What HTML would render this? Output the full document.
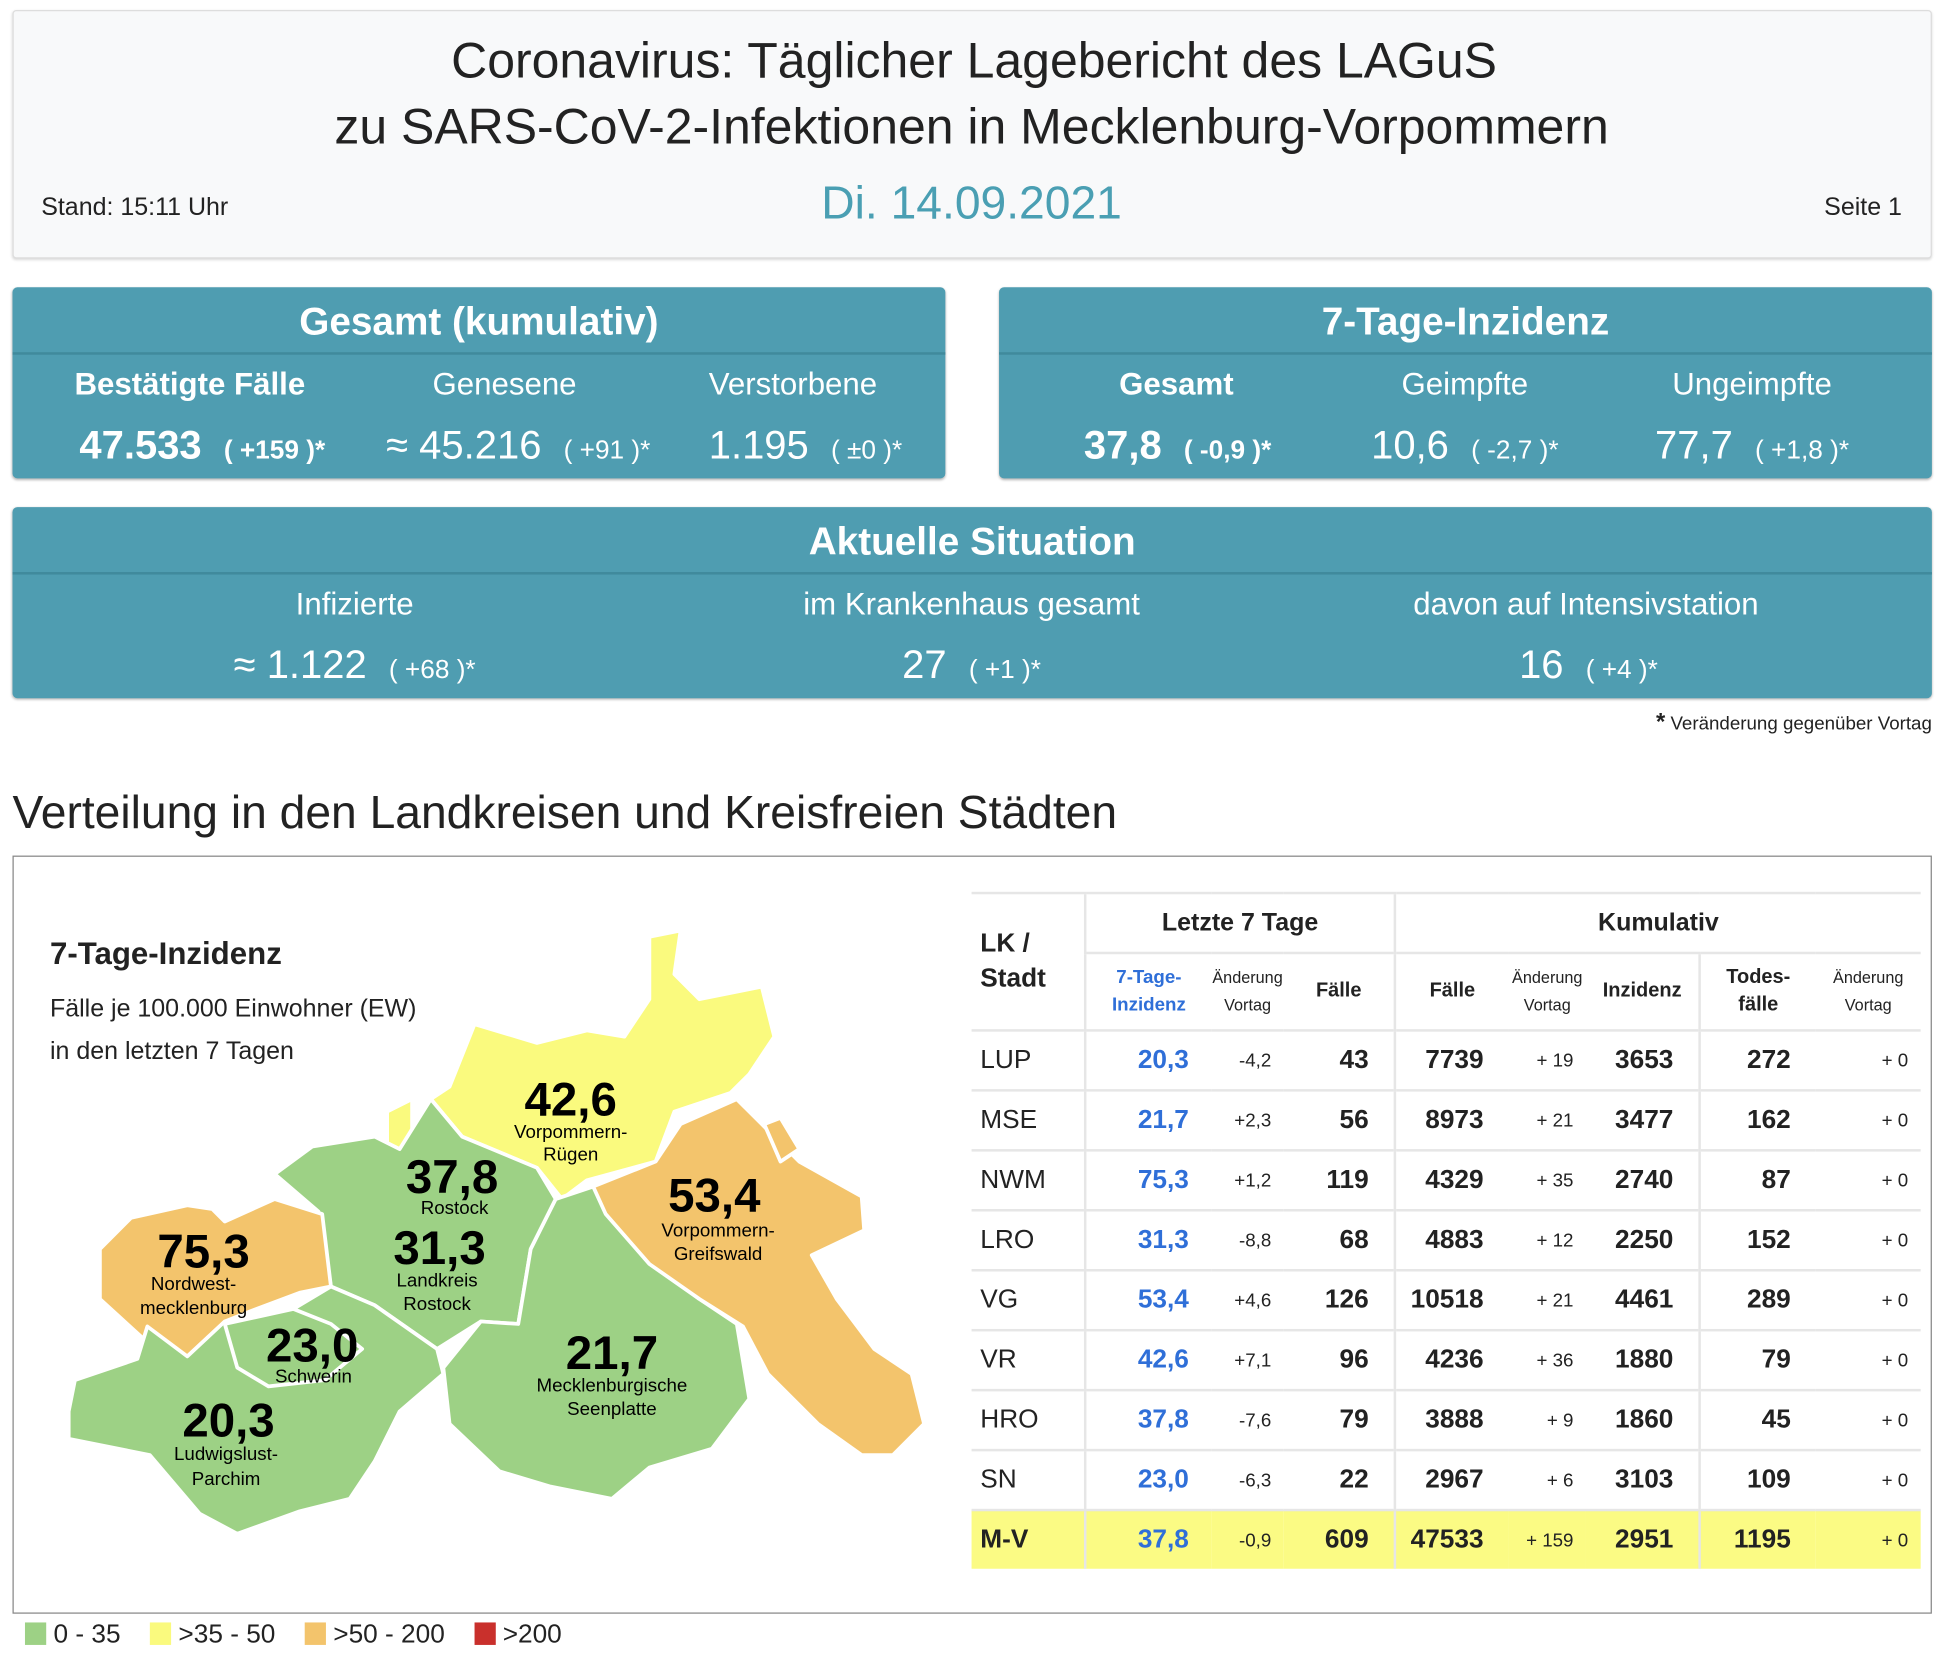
<!DOCTYPE html>
<html><head><meta charset="utf-8">
<style>
html,body{margin:0;padding:0;background:#fff;width:1958px;height:1670px;overflow:hidden}
#w{position:absolute;left:0;top:0;width:1560px;height:1330px;transform:scale(1.2488,1.249);transform-origin:0 0;font-family:"Liberation Sans",sans-serif;color:#222}
.a{position:absolute;white-space:nowrap}
.c{text-align:center}
.box{position:absolute;background:#4f9db1;border-radius:4px;box-shadow:0 1px 2px rgba(0,0,0,.3);color:#fff}
.box .h{position:absolute;left:0;right:0;top:0;height:52px;border-bottom:2px solid #408a9c;font-weight:bold;font-size:31px;text-align:center;line-height:56px}
.lab{font-size:25px;position:absolute;text-align:center;width:240px}
.val{font-size:32px;position:absolute;text-align:center;width:280px}
.val small{font-size:21px}
table{border-collapse:collapse;position:absolute;left:778px;top:714px;width:760px;font-size:21px}
td{border-top:2px solid #e6e6e6;height:46px;padding:0;text-align:right}
.lk{text-align:left;padding-left:7px;font-size:21px}
.b{color:#2f6fd8;font-weight:bold;padding-right:18px}
.s{font-size:15px;padding-right:10px}
.bd{font-weight:bold;padding-right:20px}
.vl{border-left:2px solid #e6e6e6}
</style></head><body><div id="w">
<div class="a" style="left:10px;top:8px;width:1535px;height:197px;background:#f8f9fa;border:1px solid #ddd;border-radius:3px;box-shadow:0 1px 2px rgba(0,0,0,.15)"></div>
<div class="a c" style="left:0;width:1560px;top:25px;font-size:40px;line-height:48px">Coronavirus: Täglicher Lagebericht des LAGuS</div>
<div class="a c" style="left:0;width:1556px;top:78px;font-size:40px;line-height:48px">zu SARS-CoV-2-Infektionen in Mecklenburg-Vorpommern</div>
<div class="a c" style="left:0;width:1556px;top:140px;font-size:37px;line-height:46px;color:#4a9fb3">Di. 14.09.2021</div>
<div class="a" style="left:33px;top:155px;font-size:20px">Stand: 15:11 Uhr</div>
<div class="a" style="right:37px;top:155px;font-size:20px">Seite 1</div>

<div class="box" style="left:10px;top:230px;width:747px;height:153px"><div class="h">Gesamt (kumulativ)</div>
<div class="lab" style="left:22px;top:64px;font-weight:bold">Bestätigte Fälle</div>
<div class="lab" style="left:274px;top:64px">Genesene</div>
<div class="lab" style="left:505px;top:64px">Verstorbene</div>
<div class="val" style="left:12px;top:108px;font-weight:bold">47.533 &nbsp;<small>( +159 )*</small></div>
<div class="val" style="left:265px;top:108px">≈ 45.216 &nbsp;<small>( +91 )*</small></div>
<div class="val" style="left:495px;top:108px">1.195 &nbsp;<small>( ±0 )*</small></div>
</div>
<div class="box" style="left:800px;top:230px;width:747px;height:153px"><div class="h">7-Tage-Inzidenz</div>
<div class="lab" style="left:22px;top:64px;font-weight:bold">Gesamt</div>
<div class="lab" style="left:253px;top:64px">Geimpfte</div>
<div class="lab" style="left:483px;top:64px">Ungeimpfte</div>
<div class="val" style="left:3px;top:108px;font-weight:bold">37,8 &nbsp;<small>( -0,9 )*</small></div>
<div class="val" style="left:233px;top:108px">10,6 &nbsp;<small>( -2,7 )*</small></div>
<div class="val" style="left:463px;top:108px">77,7 &nbsp;<small>( +1,8 )*</small></div>
</div>
<div class="box" style="left:10px;top:406px;width:1537px;height:153px"><div class="h">Aktuelle Situation</div>
<div class="lab" style="left:154px;top:64px">Infizierte</div>
<div class="lab" style="left:578px;top:64px;width:380px">im Krankenhaus gesamt</div>
<div class="lab" style="left:1060px;top:64px;width:400px">davon auf Intensivstation</div>
<div class="val" style="left:134px;top:108px">≈ 1.122 &nbsp;<small>( +68 )*</small></div>
<div class="val" style="left:628px;top:108px">27 &nbsp;<small>( +1 )*</small></div>
<div class="val" style="left:1122px;top:108px">16 &nbsp;<small>( +4 )*</small></div>
</div>
<div class="a" style="right:13px;top:568px;font-size:15px"><b style="font-size:19px">*</b> Veränderung gegenüber Vortag</div>
<div class="a" style="left:10px;top:630px;font-size:37px">Verteilung in den Landkreisen und Kreisfreien Städten</div>
<div class="a" style="left:10px;top:685px;width:1535px;height:605px;border:1px solid #888"></div>

<div class="a" style="left:40px;top:750px;font-size:25px;font-weight:bold">7-Tage-Inzidenz</div>
<div class="a" style="left:40px;top:797px;font-size:20px">Fälle je 100.000 Einwohner (EW)</div>
<div class="a" style="left:40px;top:831px;font-size:20px">in den letzten 7 Tagen</div>

<svg class="a" style="left:0;top:0" width="780" height="1330" viewBox="0 0 780 1330">
<g stroke="#fff" stroke-width="3" stroke-linejoin="round">
<polygon fill="#fafa7e" points="520,750 545,745 540,780 560,800 610,790 620,830 600,860 585,875 540,890 525,930 470,945 450,960 430,935 370,910 345,880 360,870 380,820 430,835 470,825 500,830 520,800"/>
<polygon fill="#fafa7e" points="310,890 330,880 330,930 310,935"/>
<polygon fill="#9dd185" points="220,940 250,918 300,910 320,920 345,880 370,910 430,935 445,960 425,1000 415,1060 385,1058 350,1080 300,1045 265,1030 255,970"/>
<polygon fill="#f3c46c" points="80,1000 105,975 150,965 170,968 180,978 220,960 258,972 265,1030 240,1035 200,1050 180,1058 150,1086 115,1072 80,1040"/>
<polygon fill="#9dd185" points="55,1130 60,1105 110,1088 118,1062 150,1086 180,1058 235,1048 265,1030 300,1045 350,1080 355,1100 320,1130 300,1170 280,1200 240,1210 190,1228 160,1212 120,1165 55,1152"/>
<polygon fill="#9dd185" points="180,1060 235,1048 265,1060 290,1080 260,1105 215,1110 190,1095"/>
<polygon fill="#9dd185" points="445,960 475,950 520,1010 560,1040 590,1060 600,1120 570,1160 520,1175 490,1200 440,1190 400,1178 360,1140 355,1095 385,1058 415,1060 425,1000"/>
<polygon fill="#f3c46c" points="475,950 525,930 545,900 590,880 610,900 640,930 690,958 692,985 650,1005 670,1040 700,1080 730,1100 740,1140 715,1165 690,1165 655,1140 615,1100 595,1062 560,1040 520,1012 485,972"/>
<polygon fill="#f3c46c" points="612,900 625,895 640,920 625,930"/>
</g>
<g font-family="Liberation Sans,sans-serif" text-anchor="middle" fill="#000">
<g font-weight="bold" font-size="38">
<text x="457" y="893">42,6</text><text x="362" y="955">37,8</text><text x="352" y="1012">31,3</text>
<text x="572" y="970">53,4</text><text x="163" y="1015">75,3</text><text x="250" y="1090">23,0</text>
<text x="490" y="1096">21,7</text><text x="183" y="1150">20,3</text></g>
<g font-size="15">
<text x="457" y="911">Vorpommern-</text><text x="457" y="929">Rügen</text>
<text x="364" y="972">Rostock</text><text x="350" y="1030">Landkreis</text><text x="350" y="1049">Rostock</text>
<text x="575" y="990">Vorpommern-</text><text x="575" y="1009">Greifswald</text>
<text x="155" y="1033">Nordwest-</text><text x="155" y="1052">mecklenburg</text>
<text x="251" y="1107">Schwerin</text>
<text x="490" y="1114">Mecklenburgische</text><text x="490" y="1133">Seenplatte</text>
<text x="181" y="1169">Ludwigslust-</text><text x="181" y="1189">Parchim</text></g></g>
</svg>

<table>
<tr style="height:48px"><td rowspan="2" class="lk" style="border-top:2px solid #e6e6e6;font-weight:bold;line-height:28px;width:83px">LK /<br>Stadt</td>
<td colspan="3" class="vl" style="text-align:center;font-weight:bold;font-size:20px">Letzte 7 Tage</td>
<td colspan="5" class="vl" style="text-align:center;font-weight:bold;font-size:20px">Kumulativ</td></tr>
<tr style="height:62px">
<td class="vl" style="text-align:center;color:#2f6fd8;font-weight:bold;font-size:15px;line-height:22px;width:100px">7-Tage-<br>Inzidenz</td>
<td style="text-align:center;font-size:13px;line-height:22px;width:58px">Änderung<br>Vortag</td>
<td style="text-align:center;font-weight:bold;font-size:16px;width:88px">Fälle</td>
<td class="vl" style="text-align:center;font-weight:bold;font-size:16px;width:90px">Fälle</td>
<td style="text-align:center;font-size:13px;line-height:22px;width:62px">Änderung<br>Vortag</td>
<td style="text-align:center;font-weight:bold;font-size:16px;width:90px">Inzidenz</td>
<td class="vl" style="text-align:center;font-weight:bold;font-size:16px;line-height:22px;width:92px">Todes-<br>fälle</td>
<td style="text-align:center;font-size:13px;line-height:22px">Änderung<br>Vortag</td></tr>
<tr><td class="lk">LUP</td><td class="vl b">20,3</td><td class="s">-4,2</td><td class="bd">43</td><td class="vl bd">7739</td><td class="s">+ 19</td><td class="bd">3653</td><td class="vl bd">272</td><td class="s">+ 0</td></tr>
<tr><td class="lk">MSE</td><td class="vl b">21,7</td><td class="s">+2,3</td><td class="bd">56</td><td class="vl bd">8973</td><td class="s">+ 21</td><td class="bd">3477</td><td class="vl bd">162</td><td class="s">+ 0</td></tr>
<tr><td class="lk">NWM</td><td class="vl b">75,3</td><td class="s">+1,2</td><td class="bd">119</td><td class="vl bd">4329</td><td class="s">+ 35</td><td class="bd">2740</td><td class="vl bd">87</td><td class="s">+ 0</td></tr>
<tr><td class="lk">LRO</td><td class="vl b">31,3</td><td class="s">-8,8</td><td class="bd">68</td><td class="vl bd">4883</td><td class="s">+ 12</td><td class="bd">2250</td><td class="vl bd">152</td><td class="s">+ 0</td></tr>
<tr><td class="lk">VG</td><td class="vl b">53,4</td><td class="s">+4,6</td><td class="bd">126</td><td class="vl bd">10518</td><td class="s">+ 21</td><td class="bd">4461</td><td class="vl bd">289</td><td class="s">+ 0</td></tr>
<tr><td class="lk">VR</td><td class="vl b">42,6</td><td class="s">+7,1</td><td class="bd">96</td><td class="vl bd">4236</td><td class="s">+ 36</td><td class="bd">1880</td><td class="vl bd">79</td><td class="s">+ 0</td></tr>
<tr><td class="lk">HRO</td><td class="vl b">37,8</td><td class="s">-7,6</td><td class="bd">79</td><td class="vl bd">3888</td><td class="s">+ 9</td><td class="bd">1860</td><td class="vl bd">45</td><td class="s">+ 0</td></tr>
<tr><td class="lk">SN</td><td class="vl b">23,0</td><td class="s">-6,3</td><td class="bd">22</td><td class="vl bd">2967</td><td class="s">+ 6</td><td class="bd">3103</td><td class="vl bd">109</td><td class="s">+ 0</td></tr>
<tr style="background:#fbfb84"><td class="lk" style="font-weight:bold">M-V</td><td class="vl b">37,8</td><td class="s">-0,9</td><td class="bd">609</td><td class="vl bd">47533</td><td class="s">+ 159</td><td class="bd">2951</td><td class="vl bd">1195</td><td class="s">+ 0</td></tr>
</table>

<div class="a" style="left:20px;top:1298px;font-size:21px;line-height:22px">
<span style="display:inline-block;width:17px;height:18px;background:#9dd185;vertical-align:-2px"></span> 0 - 35 &nbsp;
<span style="display:inline-block;width:17px;height:18px;background:#fafa7e;vertical-align:-2px;margin-left:6px"></span> &gt;35 - 50 &nbsp;
<span style="display:inline-block;width:17px;height:18px;background:#f3c46c;vertical-align:-2px;margin-left:6px"></span> &gt;50 - 200 &nbsp;
<span style="display:inline-block;width:17px;height:18px;background:#c9302c;vertical-align:-2px;margin-left:6px"></span> &gt;200</div>
</div></body></html>
